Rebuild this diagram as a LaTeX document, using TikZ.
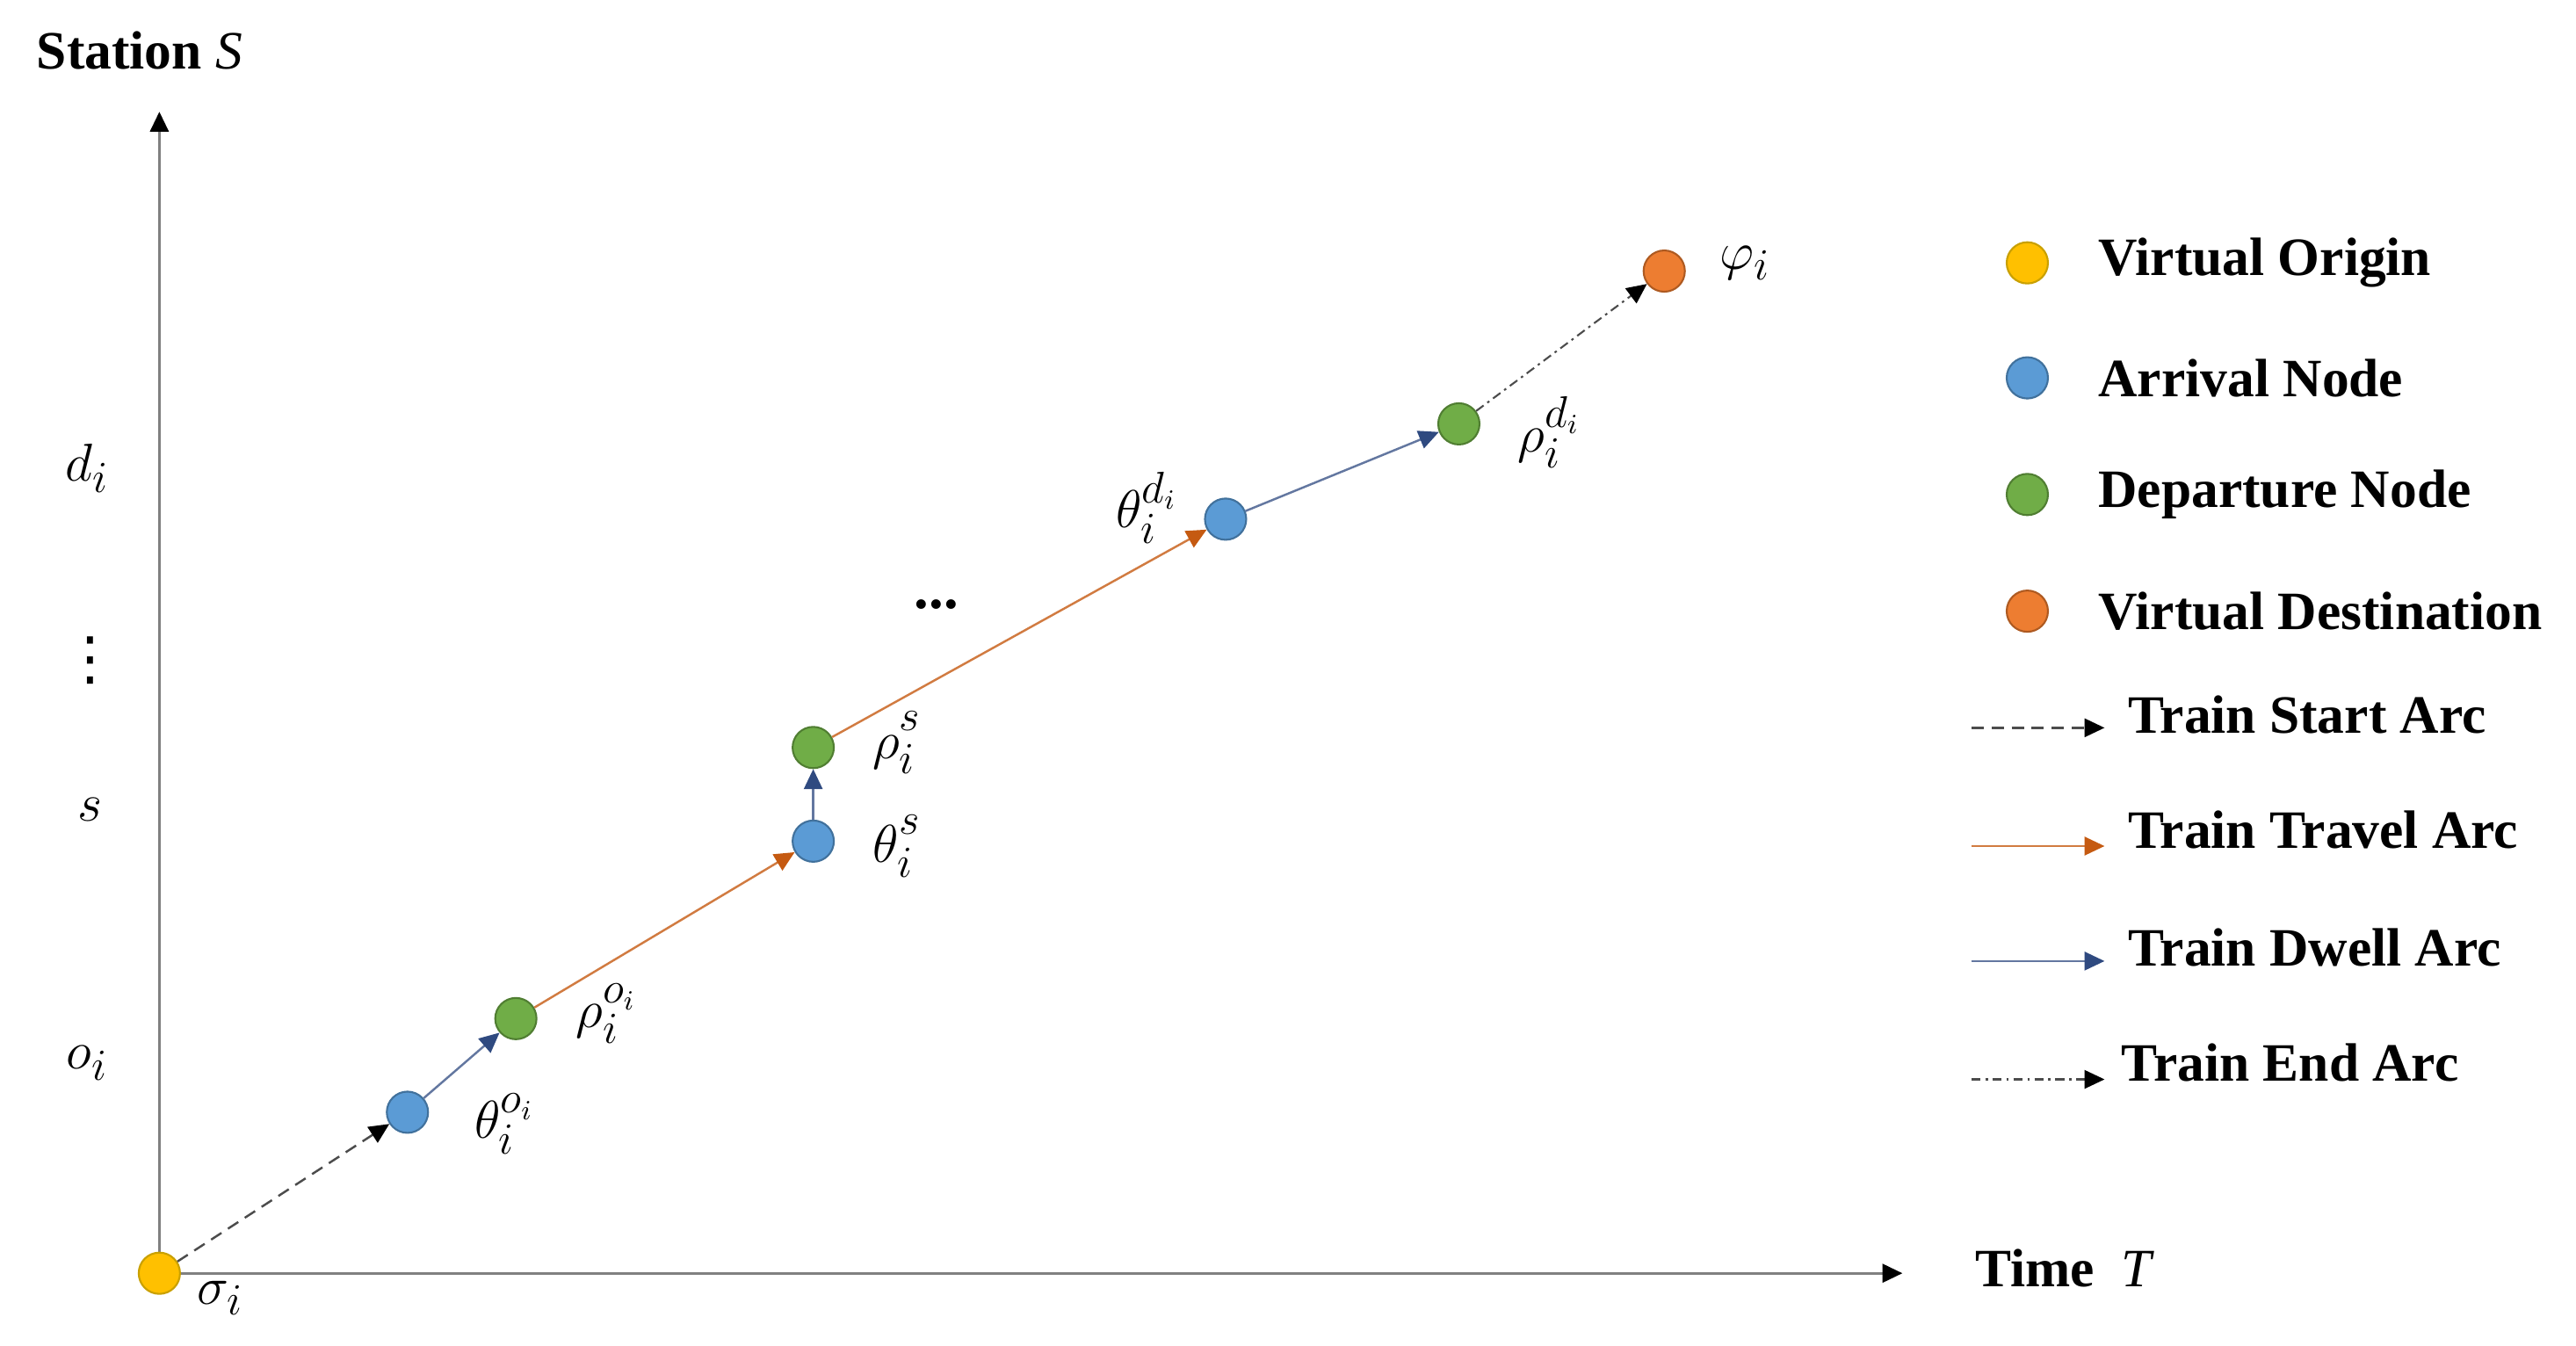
\documentclass[tikz,border=0pt]{standalone}
\usepackage{fontspec}
\setmainfont{Liberation Serif}
\newfontfamily\dejavu{DejaVu Sans}
\usetikzlibrary{arrows.meta}
\definecolor{cyel}{HTML}{FFC000}
\definecolor{cyelb}{HTML}{C9A000}
\definecolor{cblue}{HTML}{5B9BD5}
\definecolor{cblueb}{HTML}{41719C}
\definecolor{cgreen}{HTML}{70AD47}
\definecolor{cgreenb}{HTML}{507E32}
\definecolor{corange}{HTML}{ED7D31}
\definecolor{coranb}{HTML}{AE5A21}
\definecolor{ctravel}{HTML}{C55A11}
\definecolor{cdwell}{HTML}{2F4A80}
\definecolor{caxis}{HTML}{808080}
\newcommand{\upsc}[1]{\raisebox{3pt}{$\scriptstyle #1$}}
\begin{document}
\begin{tikzpicture}[x=0.0187cm,y=-0.0187cm,
  font=\fontsize{17.5}{21}\selectfont,
  dot/.style={circle, minimum size=0.47cm, inner sep=0pt, line width=0.6pt},
  yel/.style={dot, fill=cyel, draw=cyelb},
  arrn/.style={dot, fill=cblue, draw=cblueb},
  depn/.style={dot, fill=cgreen, draw=cgreenb},
  orn/.style={dot, fill=corange, draw=coranb},
  axisline/.style={draw=caxis, line width=0.9pt, -{Triangle[length=6.5pt,width=6pt,fill=black,color=black]}},
  startarc/.style={draw=black!70, line width=0.7pt, dash pattern=on 4pt off 2.5pt, -{Triangle[length=6.5pt,width=6pt,fill=black,color=black]}},
  travelarc/.style={draw=ctravel!80, line width=0.7pt, -{Triangle[length=6.5pt,width=6pt,fill=ctravel,color=ctravel]}},
  dwellarc/.style={draw=cdwell!75, line width=0.7pt, -{Triangle[length=6.5pt,width=6pt,fill=cdwell,color=cdwell]}},
  endarc/.style={draw=black!70, line width=0.6pt, dash pattern=on 3pt off 1.5pt on 0.8pt off 1.5pt, -{Triangle[length=6.5pt,width=6pt,fill=black,color=black]}},
  lbl/.style={inner sep=0pt, font=\fontsize{19}{22}\selectfont},
  legtxt/.style={anchor=west, inner sep=0pt, font=\fontsize{17.5}{21}\selectfont\bfseries}
]
\useasboundingbox (0,0) rectangle (1568,819);

% axes
\coordinate (O) at (97,775);
\coordinate (Ytop) at (97,68);
\coordinate (Xend) at (1158,775);
\draw[axisline] (O) -- (Ytop);
\draw[axisline] (O) -- (Xend);
\node[inner sep=0pt] (stationlbl) at (85,31) {\textbf{Station} \textit{S}};
\node[inner sep=0pt] (timelbl) at (1257,772) {\textbf{Time}\enspace\textit{T}};

% y-axis tick labels
\node[lbl] (ydi) at (53,285) {$d_i$};
\node[lbl] (ydots) at (55,402) {\dejavu ⋮};
\node[lbl] (ys) at (55,493) {$s$};
\node[lbl] (yoi) at (53,647) {$o_i$};

% nodes
\node[yel]  (sig) at (97,775) {};
\node[arrn] (a1)  at (248,677) {};
\node[depn] (d1)  at (314,620) {};
\node[arrn] (a2)  at (495,512) {};
\node[depn] (d2)  at (495,455) {};
\node[arrn] (a3)  at (746,316) {};
\node[depn] (d3)  at (888,258) {};
\node[orn]  (phi) at (1013,165) {};

% arcs
\draw[startarc]  (sig) -- (a1);
\draw[dwellarc]  (a1) -- (d1);
\draw[travelarc] (d1) -- (a2);
\draw[dwellarc]  (a2) -- (d2);
\draw[travelarc] (d2) -- (a3);
\draw[dwellarc]  (a3) -- (d3);
\draw[endarc]    (d3) -- (phi);

% node labels
\node[lbl] (lsig) at (134,790) {$\sigma_i$};
\node[lbl] (la1) at (307,684) {$\theta_i^{o_i}$};
\node[lbl] (ld1) at (369,617) {$\rho_i^{o_i}$};
\node[lbl] (la2) at (546,515) {$\theta_i^{\upsc{s}}$};
\node[lbl] (ld2) at (546,452) {$\rho_i^{\upsc{s}}$};
\node[lbl] (la3) at (698,309) {$\theta_i^{d_i}$};
\node[lbl] (ld3) at (943,263) {$\rho_i^{d_i}$};
\node[lbl] (lphi) at (1062,160) {$\varphi_i$};
\node[lbl] (mdots) at (570,368) {\textbf{...}};

% legend: nodes
\node[yel]  (k1) at (1234,160) {};
\node[arrn] (k2) at (1234,230) {};
\node[depn] (k3) at (1234,301) {};
\node[orn]  (k4) at (1234,372) {};
\node[legtxt] (t1) at (1277,160) {Virtual Origin};
\node[legtxt] (t2) at (1277,230) {Arrival Node};
\node[legtxt] (t3) at (1277,301) {Departure Node};
\node[legtxt] (t4) at (1277,372) {Virtual Destination};

% legend: arcs
\coordinate (s1) at (1200,443); \coordinate (e1) at (1281,443);
\coordinate (s2) at (1200,515); \coordinate (e2) at (1281,515);
\coordinate (s3) at (1200,585); \coordinate (e3) at (1281,585);
\coordinate (s4) at (1200,657); \coordinate (e4) at (1281,657);
\draw[startarc]  (s1) -- (e1);
\draw[travelarc] (s2) -- (e2);
\draw[dwellarc]  (s3) -- (e3);
\draw[endarc]    (s4) -- (e4);
\node[legtxt] (u1) at (1295,435) {Train Start Arc};
\node[legtxt] (u2) at (1295,505) {Train Travel Arc};
\node[legtxt] (u3) at (1295,577) {Train Dwell Arc};
\node[legtxt] (u4) at (1291,647) {Train End Arc};
\end{tikzpicture}
\end{document}
